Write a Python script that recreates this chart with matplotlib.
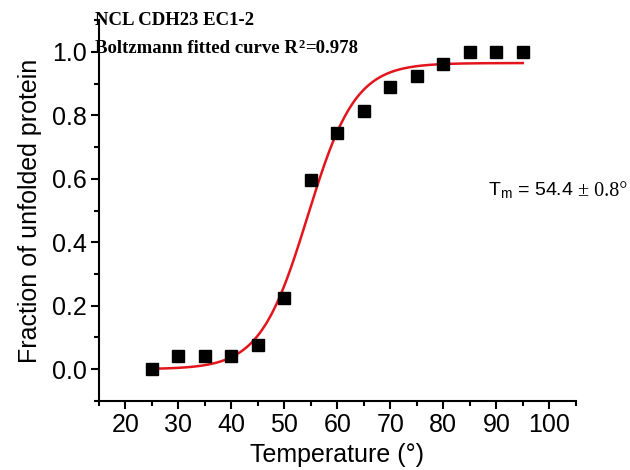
import numpy as np
import matplotlib.pyplot as plt
from matplotlib.ticker import MultipleLocator

# ----------------------------
# Data
# ----------------------------
temperature = [25, 30, 35, 40, 45, 50, 55, 60, 65, 70, 75, 80, 85, 90, 95]
fraction_unfolded = [0.0, 0.04, 0.04, 0.04, 0.075, 0.225, 0.595, 0.745,
                     0.815, 0.89, 0.925, 0.963, 1.0, 1.0, 1.0]

# Boltzmann fit parameters
A1 = 0.0
A2 = 0.965
X0 = 54.4
DX = 4.5

def boltzmann(x):
    return A2 + (A1 - A2) / (1 + np.exp((x - X0) / DX))

x_fit = np.linspace(min(temperature), max(temperature), 300)
y_fit = boltzmann(x_fit)

# ----------------------------
# Plot
# ----------------------------
plt.rcParams['font.family'] = ['Liberation Sans', 'DejaVu Sans']
fig = plt.figure(figsize=(6.3, 4.7), dpi=100)
ax = fig.add_axes([0.157, 0.147, 0.757, 0.81])

ax.plot(x_fit, y_fit, color="#e3141c", linewidth=1.8, zorder=2)
ax.plot(temperature, fraction_unfolded, linestyle="none", marker="s",
        markersize=8, color="black", zorder=3)

ax.set_xlim(15, 105)
ax.set_ylim(-0.1, 1.1)
ax.xaxis.set_minor_locator(MultipleLocator(5))
ax.yaxis.set_minor_locator(MultipleLocator(0.1))
ax.set_xticks(range(20, 101, 10))
ax.set_yticks([0.0, 0.2, 0.4, 0.6, 0.8, 1.0])
ax.set_yticklabels(["0.0", "0.2", "0.4", "0.6", "0.8", "1.0"])

for side in ["top", "right"]:
    ax.spines[side].set_visible(False)
for side in ["left", "bottom"]:
    ax.spines[side].set_linewidth(1.5)

ax.tick_params(which="major", direction="out", length=6, width=1.5,
               labelsize=18, pad=3)
ax.tick_params(which="minor", direction="out", length=3.5, width=1.5)

ax.set_xlabel("Temperature (°)", fontsize=18, labelpad=4)
ax.set_ylabel("Fraction of unfolded protein", fontsize=18, labelpad=7)

serif = ['Liberation Serif', 'DejaVu Serif']
fig.text(0.151, 0.947, "NCL CDH23 EC1-2", fontsize=13.5, fontweight="bold",
         family=serif, ha="left", va="baseline")
r1 = fig.text(0.151, 0.887, "Boltzmann fitted curve R",
              fontsize=13.5, fontweight="bold", family=serif, ha="left", va="baseline")
r2 = ax.annotate("2", xy=(1, 1), xycoords=r1, xytext=(0.3, 0.5),
                 textcoords="offset points", fontsize=9, fontweight="bold",
                 family=serif, ha="left", va="top")
ax.annotate("=0.978", xy=(1, 0), xycoords=(r2, r1), xytext=(0.3, 0),
            textcoords="offset points", fontsize=13.5, fontweight="bold",
            family=serif, ha="left", va="bottom")

t1 = fig.text(0.774, 0.583, "T$_\\mathregular{m}$ = 54.4", fontsize=14,
              ha="left", va="baseline")
ax.annotate("± 0.8°", xy=(1, 0), xycoords=t1, xytext=(3, 0),
            textcoords="offset points", fontsize=14.5, family=serif,
            ha="left", va="bottom")

plt.savefig("out.png", dpi=100)
